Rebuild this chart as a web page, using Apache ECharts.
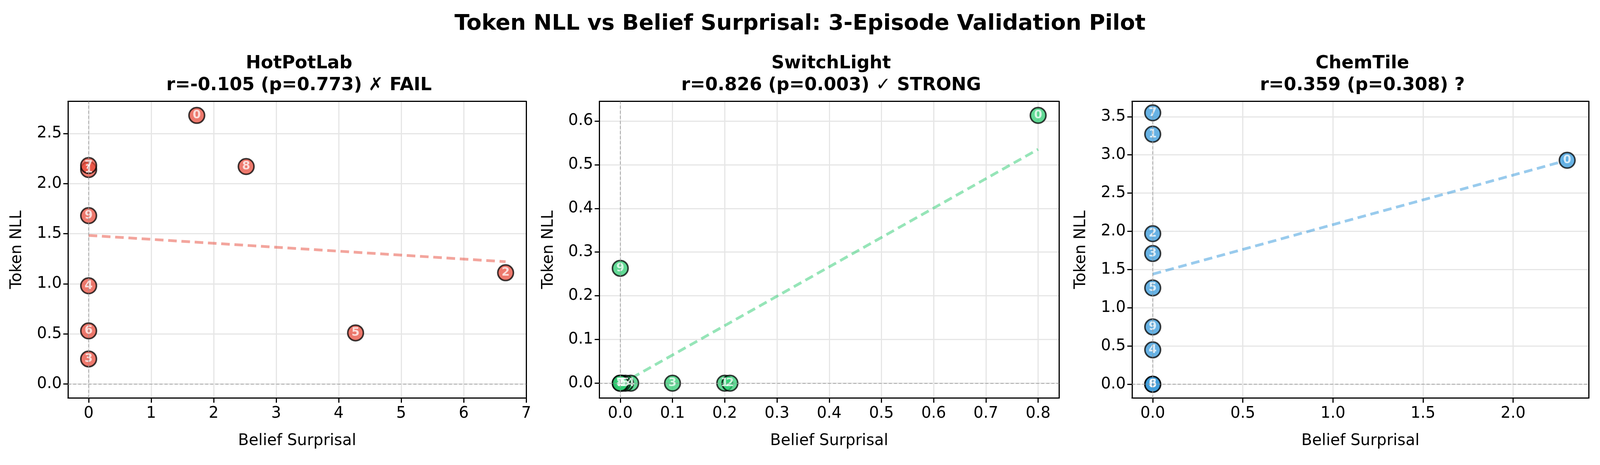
<!DOCTYPE html>
<html>
<head>
<meta charset="utf-8">
<script src="https://cdn.jsdelivr.net/npm/echarts@6/dist/echarts.min.js"></script>
<style>html,body{margin:0;background:#fff;overflow:hidden}#main{width:100vw;height:100vh}</style>
</head>
<body>
<div id="main"></div>
<script>
// episode ids, belief surprisal (x) and token NLL (y) per environment
let hotIds = [0, 1, 2, 3, 4, 5, 6, 7, 8, 9];
let hotX = [1.73, 0, 6.67, 0, 0, 4.27, 0, 0, 2.52, 0];
let hotY = [2.68, 2.14, 1.11, 0.25, 0.98, 0.51, 0.53, 2.18, 2.17, 1.68];

let swIds = [0, 1, 2, 3, 4, 5, 6, 7, 8, 9];
let swX = [0.80, 0.20, 0.21, 0.10, 0.02, 0.01, 0.004, 0.0, 0.0, 0.0];
let swY = [0.613, 0.0, 0.0, 0.0, 0.0, 0.0, 0.0, 0.0, 0.0, 0.263];

let chemIds = [0, 1, 2, 3, 4, 5, 6, 7, 8, 9];
let chemX = [2.30, 0, 0, 0, 0, 0, 0, 0, 0, 0];
let chemY = [2.93, 3.27, 1.97, 1.71, 0.45, 1.26, 0.0, 3.55, 0.0, 0.75];

let titles = [
    'HotPotLab\nr=-0.105 (p=0.773) ✗ FAIL',
    'SwitchLight\nr=0.826 (p=0.003) ✓ STRONG',
    'ChemTile\nr=0.359 (p=0.308) ?'
];
let colors = ['#e74c3c', '#2ecc71', '#3498db'];

// axis ranges and tick values
let xRanges = [[-0.33, 7], [-0.04, 0.84], [-0.115, 2.42]];
let yRanges = [[-0.14, 2.82], [-0.034, 0.645], [-0.18, 3.7]];
let xTicks = [[0, 1, 2, 3, 4, 5, 6, 7], [0, 0.1, 0.2, 0.3, 0.4, 0.5, 0.6, 0.7, 0.8], [0, 0.5, 1, 1.5, 2]];
let yTicks = [[0, 0.5, 1, 1.5, 2, 2.5], [0, 0.1, 0.2, 0.3, 0.4, 0.5, 0.6], [0, 0.5, 1, 1.5, 2, 2.5, 3, 3.5]];
let xDigits = [0, 1, 1];

let panels = [[hotIds, hotX, hotY], [swIds, swX, swY], [chemIds, chemX, chemY]];
// left and width in percent of the page width
let gridPos = [[4.25, 28.64], [37.46, 28.73], [70.75, 28.55]];

function fit(xs, ys) {
    let n = xs.length, mx = 0, my = 0;
    for (let i = 0; i < n; i++) { mx += xs[i] / n; my += ys[i] / n; }
    let sxy = 0, sxx = 0;
    for (let i = 0; i < n; i++) { sxy += (xs[i] - mx) * (ys[i] - my); sxx += (xs[i] - mx) ** 2; }
    let b = sxy / sxx, a = my - b * mx;
    let lo = Math.min(...xs), hi = Math.max(...xs);
    return [[lo, a + b * lo], [hi, a + b * hi]];
}

let font = 'DejaVu Sans';
let grids = [], xAxes = [], yAxes = [], series = [], titleList = [];

titleList.push({
    text: 'Token NLL vs Belief Surprisal: 3-Episode Validation Pilot',
    left: 'center', top: 28,
    textStyle: {fontFamily: font, fontSize: 56, fontWeight: 'bold', color: '#000'}
});

panels.forEach(function (p, k) {
    let ids = p[0], xs = p[1], ys = p[2];
    grids.push({left: gridPos[k][0] + '%', width: gridPos[k][1] + '%', top: '21.8%', height: '63.8%'});
    titleList.push({
        text: titles[k],
        left: (gridPos[k][0] + gridPos[k][1] / 2) + '%', top: 130, textAlign: 'center',
        textStyle: {fontFamily: font, fontSize: 46, fontWeight: 'bold', color: '#000', lineHeight: 56}
    });
    let axisCommon = {
        axisLine: {onZero: false, lineStyle: {color: '#000', width: 3}},
        axisTick: {length: 12, lineStyle: {color: '#000', width: 3}},
        splitLine: {show: true, lineStyle: {color: '#e6e6e6', width: 3}},
        nameTextStyle: {fontFamily: font, fontSize: 40, color: '#000'}
    };
    xAxes.push(Object.assign({}, axisCommon, {
        type: 'value', gridIndex: k, min: xRanges[k][0], max: xRanges[k][1],
        name: 'Belief Surprisal', nameLocation: 'middle', nameGap: 90,
        axisTick: Object.assign({}, axisCommon.axisTick, {customValues: xTicks[k]}),
        axisLabel: {customValues: xTicks[k], fontFamily: font, fontSize: 40, color: '#000', margin: 20,
            formatter: (function (d) { return function (v) { return v.toFixed(d); }; })(xDigits[k])}
    }));
    yAxes.push(Object.assign({}, axisCommon, {
        type: 'value', gridIndex: k, min: yRanges[k][0], max: yRanges[k][1],
        name: 'Token NLL', nameLocation: 'middle', nameGap: 110,
        axisTick: Object.assign({}, axisCommon.axisTick, {customValues: yTicks[k]}),
        axisLabel: {customValues: yTicks[k], fontFamily: font, fontSize: 40, color: '#000', margin: 16,
            formatter: function (v) { return v.toFixed(1); }}
    }));
    // right/top frame
    xAxes.push({type: 'value', gridIndex: k, position: 'top', min: xRanges[k][0], max: xRanges[k][1],
        axisLine: {onZero: false, lineStyle: {color: '#000', width: 3}}, axisTick: {show: false},
        axisLabel: {show: false}, splitLine: {show: false}});
    yAxes.push({type: 'value', gridIndex: k, position: 'right', min: yRanges[k][0], max: yRanges[k][1],
        axisLine: {onZero: false, lineStyle: {color: '#000', width: 3}}, axisTick: {show: false},
        axisLabel: {show: false}, splitLine: {show: false}});
    let xi = k * 2, yi = k * 2;
    series.push({
        type: 'line', xAxisIndex: xi, yAxisIndex: yi, data: fit(xs, ys), symbol: 'none',
        lineStyle: {color: colors[k], opacity: 0.5, width: 7, type: [22, 12]}, z: 3,
        markLine: {
            silent: true, symbol: 'none', label: {show: false},
            lineStyle: {color: '#999', type: [8, 5], width: 2, opacity: 0.8},
            data: [{xAxis: 0}, {yAxis: 0}]
        }
    });
    series.push({
        type: 'scatter', xAxisIndex: xi, yAxisIndex: yi, symbolSize: 40, z: 4,
        data: ids.map(function (id, i) { return [xs[i], ys[i], id]; }),
        itemStyle: {color: colors[k], opacity: 0.75, borderColor: '#000', borderWidth: 4},
        label: {show: true, position: 'inside', formatter: function (d) { return d.value[2]; },
            fontFamily: font, fontSize: 30, fontWeight: 'bold', color: '#fff'}
    });
});

let myChart = echarts.init(document.getElementById('main'));
myChart.setOption({
    backgroundColor: '#fff', animation: false,
    title: titleList, grid: grids, xAxis: xAxes, yAxis: yAxes, series: series
});
</script>
</body>
</html>
